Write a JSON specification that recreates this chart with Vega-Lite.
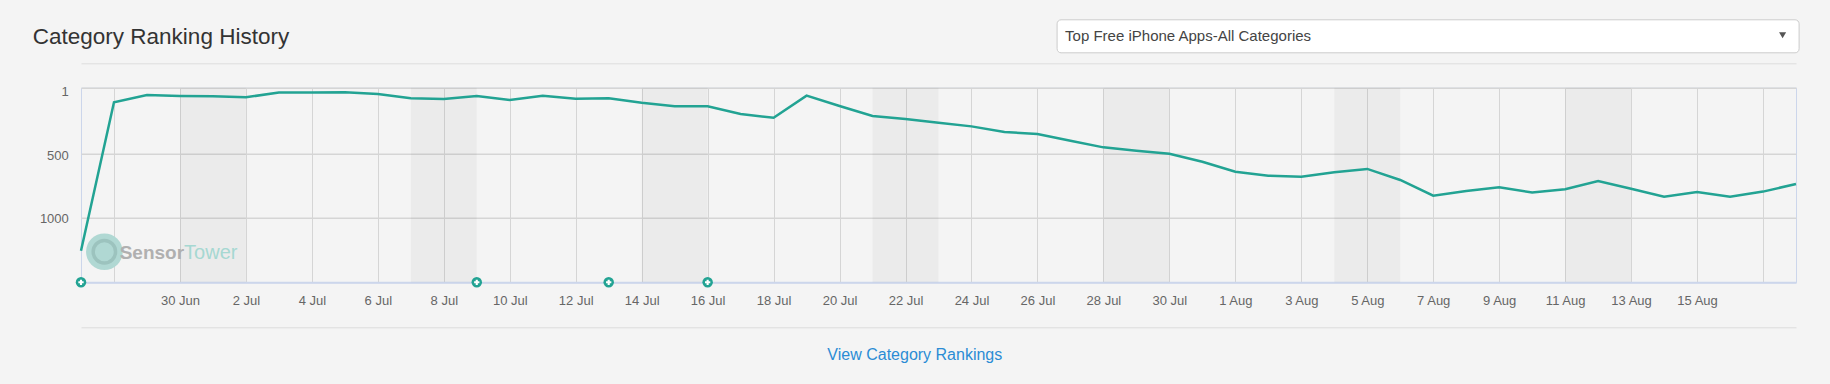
{
  "$schema": "https://vega.github.io/schema/vega-lite/v6.json",
  "width": 1715,
  "height": 194.6,
  "autosize": {"type": "none"},
  "padding": {"left": 81, "top": 87.7, "right": 34, "bottom": 101.7},
  "background": "#f4f4f4",
  "config": {
    "view": {"stroke": "#ccd6eb", "strokeWidth": 1, "fill": "#f4f4f4"},
    "font": "Liberation Sans"
  },
  "datasets": {
    "rank": [
      {"date": "2018-06-27", "rank": 1257},
      {"date": "2018-06-28", "rank": 111},
      {"date": "2018-06-29", "rank": 56},
      {"date": "2018-06-30", "rank": 63},
      {"date": "2018-07-01", "rank": 65},
      {"date": "2018-07-02", "rank": 73},
      {"date": "2018-07-03", "rank": 38},
      {"date": "2018-07-04", "rank": 38},
      {"date": "2018-07-05", "rank": 36},
      {"date": "2018-07-06", "rank": 48},
      {"date": "2018-07-07", "rank": 81},
      {"date": "2018-07-08", "rank": 86},
      {"date": "2018-07-09", "rank": 63},
      {"date": "2018-07-10", "rank": 94},
      {"date": "2018-07-11", "rank": 61},
      {"date": "2018-07-12", "rank": 84},
      {"date": "2018-07-13", "rank": 81},
      {"date": "2018-07-14", "rank": 114},
      {"date": "2018-07-15", "rank": 141},
      {"date": "2018-07-16", "rank": 141},
      {"date": "2018-07-17", "rank": 199},
      {"date": "2018-07-18", "rank": 227},
      {"date": "2018-07-19", "rank": 61},
      {"date": "2018-07-20", "rank": 139},
      {"date": "2018-07-21", "rank": 214},
      {"date": "2018-07-22", "rank": 237},
      {"date": "2018-07-23", "rank": 264},
      {"date": "2018-07-24", "rank": 292},
      {"date": "2018-07-25", "rank": 334},
      {"date": "2018-07-26", "rank": 350},
      {"date": "2018-07-27", "rank": 400},
      {"date": "2018-07-28", "rank": 450},
      {"date": "2018-07-29", "rank": 475},
      {"date": "2018-07-30", "rank": 498},
      {"date": "2018-07-31", "rank": 561},
      {"date": "2018-08-01", "rank": 640},
      {"date": "2018-08-02", "rank": 671},
      {"date": "2018-08-03", "rank": 679},
      {"date": "2018-08-04", "rank": 645},
      {"date": "2018-08-05", "rank": 618},
      {"date": "2018-08-06", "rank": 705},
      {"date": "2018-08-07", "rank": 829},
      {"date": "2018-08-08", "rank": 792},
      {"date": "2018-08-09", "rank": 763},
      {"date": "2018-08-10", "rank": 804},
      {"date": "2018-08-11", "rank": 778},
      {"date": "2018-08-12", "rank": 713},
      {"date": "2018-08-13", "rank": 774},
      {"date": "2018-08-14", "rank": 837},
      {"date": "2018-08-15", "rank": 800},
      {"date": "2018-08-16", "rank": 837},
      {"date": "2018-08-17", "rank": 797},
      {"date": "2018-08-18", "rank": 737}
    ],
    "weekends": [
      {"start": "2018-06-30", "end": "2018-07-02"},
      {"start": "2018-07-07", "end": "2018-07-09"},
      {"start": "2018-07-14", "end": "2018-07-16"},
      {"start": "2018-07-21", "end": "2018-07-23"},
      {"start": "2018-07-28", "end": "2018-07-30"},
      {"start": "2018-08-04", "end": "2018-08-06"},
      {"start": "2018-08-11", "end": "2018-08-13"}
    ],
    "updates": [
      {"date": "2018-06-27", "event": "update"},
      {"date": "2018-07-09", "event": "update"},
      {"date": "2018-07-13", "event": "update"},
      {"date": "2018-07-16", "event": "update"}
    ]
  },
  "layer": [
    {
      "data": {"name": "rank"},
      "mark": {"type": "line", "color": "#22a393", "strokeWidth": 2.5, "interpolate": "linear", "opacity": 0},
      "encoding": {
        "x": {
          "field": "date", "type": "temporal",
          "scale": {
            "type": "utc",
            "domain": [
              {"year": 2018, "month": 6, "date": 27, "utc": true},
              {"year": 2018, "month": 8, "date": 18, "utc": true}
            ]
          },
          "axis": {
            "orient": "bottom",
            "values": [
              {"year": 2018, "month": 6, "date": 28, "utc": true},
              {"year": 2018, "month": 6, "date": 30, "utc": true},
              {"year": 2018, "month": 7, "date": 2, "utc": true},
              {"year": 2018, "month": 7, "date": 4, "utc": true},
              {"year": 2018, "month": 7, "date": 6, "utc": true},
              {"year": 2018, "month": 7, "date": 8, "utc": true},
              {"year": 2018, "month": 7, "date": 10, "utc": true},
              {"year": 2018, "month": 7, "date": 12, "utc": true},
              {"year": 2018, "month": 7, "date": 14, "utc": true},
              {"year": 2018, "month": 7, "date": 16, "utc": true},
              {"year": 2018, "month": 7, "date": 18, "utc": true},
              {"year": 2018, "month": 7, "date": 20, "utc": true},
              {"year": 2018, "month": 7, "date": 22, "utc": true},
              {"year": 2018, "month": 7, "date": 24, "utc": true},
              {"year": 2018, "month": 7, "date": 26, "utc": true},
              {"year": 2018, "month": 7, "date": 28, "utc": true},
              {"year": 2018, "month": 7, "date": 30, "utc": true},
              {"year": 2018, "month": 8, "date": 1, "utc": true},
              {"year": 2018, "month": 8, "date": 3, "utc": true},
              {"year": 2018, "month": 8, "date": 5, "utc": true},
              {"year": 2018, "month": 8, "date": 7, "utc": true},
              {"year": 2018, "month": 8, "date": 9, "utc": true},
              {"year": 2018, "month": 8, "date": 11, "utc": true},
              {"year": 2018, "month": 8, "date": 13, "utc": true},
              {"year": 2018, "month": 8, "date": 15, "utc": true},
              {"year": 2018, "month": 8, "date": 17, "utc": true}
            ],
            "labelExpr": "(utcmonth(datum.value) == 5 && utcdate(datum.value) == 28) || (utcmonth(datum.value) == 7 && utcdate(datum.value) == 17) ? '' : utcFormat(datum.value, '%-d %b')",
            "grid": true, "gridColor": "#d5d5d5", "gridWidth": 1,
            "domain": true, "domainColor": "#ccd6eb", "domainWidth": 2,
            "ticks": false, "tickSize": 0,
            "labelFont": "Liberation Sans", "labelFontSize": 13, "labelColor": "#666666",
            "labelPadding": 12, "labelFlush": false, "labelOverlap": false, "labelBound": false,
            "title": "View Category Rankings",
            "titleFont": "Liberation Sans", "titleFontSize": 16, "titleFontWeight": "normal", "titleColor": "#2b8cd4",
            "titleX": 833.3, "titleY": 77, "titleAlign": "center", "titleBaseline": "alphabetic", "titleAngle": 0
          }
        },
        "y": {
          "field": "rank", "type": "quantitative",
          "scale": {"type": "linear", "domain": [1, 500, 1000, 1500], "range": [0, 66.3, 129.6, 194.6], "zero": false, "nice": false},
          "axis": {
            "values": [1, 500, 1000], "format": "d",
            "grid": true, "gridColor": "#d5d5d5", "gridWidth": 1.5,
            "domain": false, "ticks": false, "tickSize": 0,
            "labelFont": "Liberation Sans", "labelFontSize": 13, "labelColor": "#666666", "labelPadding": 12.7,
            "labelBaseline": "middle",
            "labelOffset": {"condition": {"test": "datum.value == 1", "value": 4}, "value": 1.5},
            "labelOverlap": false,
            "title": "Category Ranking History",
            "titleFont": "Liberation Sans", "titleFontSize": 22.5, "titleFontWeight": "normal", "titleColor": "#333333",
            "titleX": -48.7, "titleY": -44.4, "titleAngle": 0, "titleAlign": "left", "titleBaseline": "alphabetic"
          }
        }
      }
    },
    {
      "data": {"name": "weekends"},
      "mark": {"type": "rect", "fill": "#000000", "opacity": 0.034},
      "encoding": {
        "x": {
          "field": "start", "type": "temporal",
          "axis": {
            "orient": "top", "offset": 24.4, "domain": true, "domainColor": "#dddddd", "domainWidth": 1,
            "labels": false, "ticks": false, "grid": false, "title": null
          }
        },
        "x2": {"field": "end"}
      }
    },
    {
      "data": {"values": [{"logo": "SensorTower"}]},
      "mark": {"type": "point", "shape": "circle", "filled": true, "fill": "#b0d8d3", "opacity": 1, "size": 1340},
      "encoding": {
        "x": {"datum": {"year": 2018, "month": 6, "date": 27, "hours": 17, "utc": true}, "type": "temporal", "axis": null},
        "y": {"datum": 1265, "type": "quantitative"}
      }
    },
    {
      "data": {"values": [{"logo": "SensorTower"}]},
      "mark": {"type": "point", "shape": "circle", "filled": false, "stroke": "#9cc3be", "strokeWidth": 3.5, "opacity": 1, "size": 500},
      "encoding": {
        "x": {"datum": {"year": 2018, "month": 6, "date": 27, "hours": 17, "utc": true}, "type": "temporal", "axis": null},
        "y": {"datum": 1265, "type": "quantitative"}
      }
    },
    {
      "data": {"values": [{"part": "Sensor"}]},
      "mark": {"type": "text", "align": "right", "baseline": "alphabetic", "font": "Liberation Sans", "fontSize": 19, "fontWeight": "bold", "color": "#b0b0b0"},
      "encoding": {
        "x": {"datum": {"year": 2018, "month": 6, "date": 30, "hours": 3, "utc": true}, "type": "temporal", "axis": null},
        "y": {"datum": 1321, "type": "quantitative"},
        "text": {"field": "part"}
      }
    },
    {
      "data": {"values": [{"part": "Tower"}]},
      "mark": {"type": "text", "align": "left", "baseline": "alphabetic", "font": "Liberation Sans", "fontSize": 20, "color": "#a6d8d2"},
      "encoding": {
        "x": {"datum": {"year": 2018, "month": 6, "date": 30, "hours": 3, "utc": true}, "type": "temporal", "axis": null},
        "y": {"datum": 1321, "type": "quantitative"},
        "text": {"field": "part"}
      }
    },
    {
      "data": {"name": "rank"},
      "mark": {"type": "line", "color": "#22a393", "strokeWidth": 2.5, "interpolate": "linear"},
      "encoding": {
        "x": {"field": "date", "type": "temporal", "axis": null},
        "y": {"field": "rank", "type": "quantitative"}
      }
    },
    {
      "data": {"name": "updates"},
      "mark": {"type": "point", "shape": "circle", "filled": true, "fill": "#22a393", "opacity": 1, "size": 110, "strokeWidth": 0},
      "encoding": {
        "x": {
          "field": "date", "type": "temporal",
          "axis": {
            "orient": "bottom", "offset": 45, "domain": true, "domainColor": "#dcdcdc", "domainWidth": 1,
            "labels": false, "ticks": false, "grid": false, "title": null
          }
        },
        "y": {"datum": 1500, "type": "quantitative"}
      }
    },
    {
      "data": {"name": "updates"},
      "mark": {"type": "point", "shape": "cross", "filled": true, "fill": "#ffffff", "opacity": 1, "size": 28, "strokeWidth": 0},
      "encoding": {
        "x": {"field": "date", "type": "temporal", "axis": null},
        "y": {"datum": 1500, "type": "quantitative"}
      }
    },
    {
      "data": {"values": [{"category": "Top Free iPhone Apps-All Categories"}]},
      "mark": {"type": "point", "shape": "triangle-down", "filled": true, "color": "#555555", "size": 0, "opacity": 1},
      "encoding": {
        "shape": {
          "field": "category", "type": "nominal",
          "scale": {"range": ["triangle-down"]},
          "legend": {
            "orient": "none", "legendX": 975.6, "legendY": -68.4,
            "title": "Top Free iPhone Apps-All Categories", "titleOrient": "left", "titleLimit": 600,
            "titleFont": "Liberation Sans", "titleFontSize": 15, "titleFontWeight": "normal", "titleColor": "#444444",
            "titlePadding": 463,
            "fillColor": "#ffffff", "strokeColor": "#cccccc", "cornerRadius": 4, "padding": 8.5,
            "labelExpr": "''", "labelFontSize": 15, "labelOffset": 0,
            "symbolSize": 50, "symbolStrokeWidth": 0
          }
        }
      }
    }
  ],
  "resolve": {"axis": {"x": "independent"}}
}
